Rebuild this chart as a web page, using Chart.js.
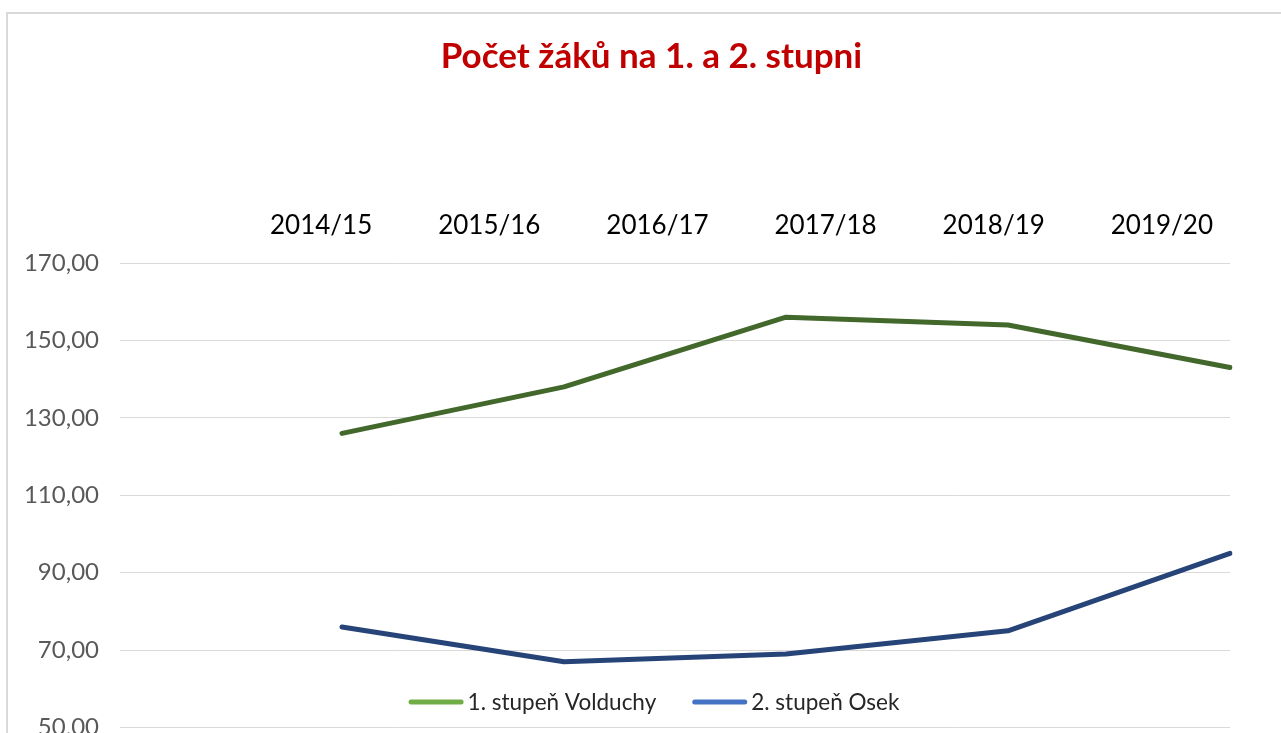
<!DOCTYPE html>
<html><head><meta charset="utf-8">
<script src="https://cdn.jsdelivr.net/npm/chart.js@4.4.1/dist/chart.umd.min.js"></script>
<style>
html,body{margin:0;padding:0;background:#fff;overflow:hidden;width:1281px;height:733px;}
#frame{position:absolute;left:6px;top:12px;width:1320px;height:820px;border:2px solid #d9d9d9;box-sizing:border-box;}
#c{position:absolute;left:0;top:0;}
</style></head><body>
<div id="frame"></div>
<canvas id="c" width="1303" height="763"></canvas>
<script>
const years = ['2014/15','2015/16','2016/17','2017/18','2018/19','2019/20'];
const seriesNames = ['1. stupeň Volduchy','2. stupeň Osek'];
const volduchy = [null,126,138,156,154,143];
const osek = [null,76,67,69,75,95];
const yMin = 50, yMax = 170, yStep = 20;

const legendPlugin = {
  id: 'excelLegend',
  afterDraw(chart, args, opts) {
    const ctx = chart.ctx;
    ctx.save();
    ctx.font = opts.font;
    ctx.textBaseline = 'middle';
    const items = chart.data.datasets.map(d => ({text: d.label, color: d.legendColor, w: ctx.measureText(d.label).width}));
    const total = items.reduce((s, it) => s + opts.boxWidth + opts.textGap + it.w, 0) + opts.itemGap * (items.length - 1);
    let x = opts.centerX - total / 2;
    const y = opts.y;
    items.forEach(it => {
      ctx.strokeStyle = it.color;
      ctx.lineWidth = 5;
      ctx.lineCap = 'round';
      ctx.beginPath();
      ctx.moveTo(x + 2.5, y);
      ctx.lineTo(x + opts.boxWidth - 2.5, y);
      ctx.stroke();
      x += opts.boxWidth + opts.textGap;
      ctx.fillStyle = opts.color;
      ctx.fillText(it.text, x, y + 1);
      x += it.w + opts.itemGap;
    });
    ctx.restore();
  }
};

const titleShift = {
  id: 'titleShift',
  afterLayout(chart, args, opts) {
    const t = chart.titleBlock;
    if (t) { t.left += opts.dx; t.right += opts.dx; }
  }
};

new Chart(document.getElementById('c'), {
  type: 'line',
  data: {
    labels: years,
    datasets: [
      {label: seriesNames[0], data: volduchy, borderColor: '#43682B', legendColor: '#70AD47', borderWidth: 5, pointRadius: 0, tension: 0, borderCapStyle: 'round', borderJoinStyle: 'round', fill: false},
      {label: seriesNames[1], data: osek, borderColor: '#264478', legendColor: '#4472C4', borderWidth: 5, pointRadius: 0, tension: 0, borderCapStyle: 'round', borderJoinStyle: 'round', fill: false}
    ]
  },
  options: {
    responsive: false,
    animation: false,
    layout: {padding: {left: 0, right: 73, top: 0, bottom: 13}},
    plugins: {
      legend: {display: false},
      tooltip: {enabled: false},
      title: {
        display: true,
        text: 'Počet žáků na 1. a 2. stupni',
        color: '#C00000',
        font: {family: 'Lato', size: 35, weight: 'bold'},
        padding: {top: 36, bottom: 0}
      },
      titleShift: {dx: 36.5},
      excelLegend: {font: '22.5px Lato', color: '#262626', boxWidth: 55, textGap: 4, itemGap: 36, centerX: 654, y: 702}
    },
    scales: {
      x: {
        type: 'category',
        display: false,
        offset: false
      },
      xTop: {
        type: 'linear',
        position: 'top',
        min: -1.196,
        max: 5.405,
        afterBuildTicks: s => { s.ticks = years.map((_, i) => ({value: i})); },
        afterFit: s => { s.height = 185; },
        grid: {display: false, drawTicks: false},
        border: {display: false},
        ticks: {
          autoSkip: false, maxRotation: 0, padding: 22,
          color: '#000000',
          font: {family: 'Lato', size: 26},
          callback: v => years[v]
        }
      },
      y: {
        min: yMin, max: yMax,
        afterFit: s => { s.width = 120; },
        grid: {color: '#d9d9d9', lineWidth: 1, drawTicks: false},
        border: {display: false},
        ticks: {
          stepSize: yStep, padding: 21,
          color: '#595959',
          font: {family: 'Lato', size: 24},
          callback: v => v.toFixed(2).replace('.', ',')
        }
      }
    }
  },
  plugins: [legendPlugin, titleShift]
});
</script>
</body></html>
